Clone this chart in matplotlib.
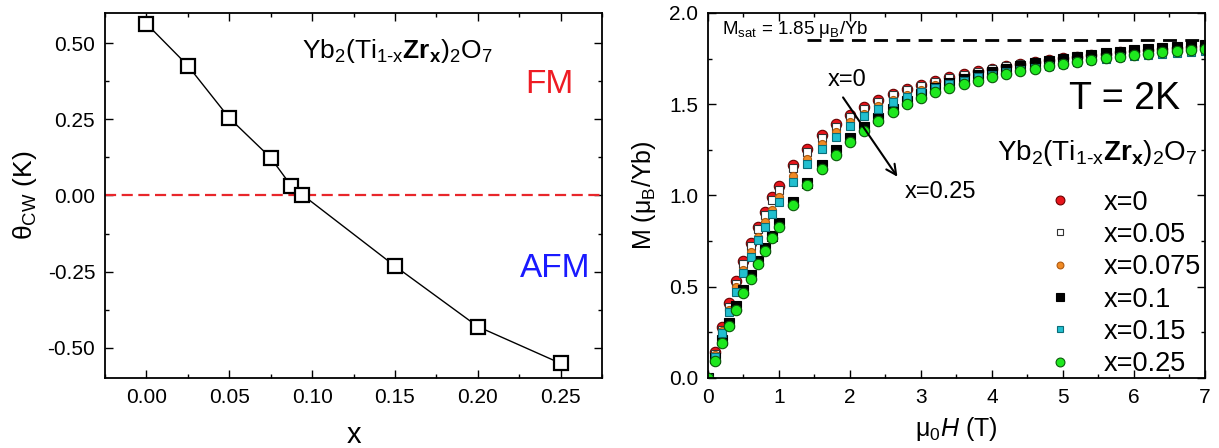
"""
Yb2(Ti1-xZrx)2O7: Curie-Weiss temperature vs x, and M(H) at T = 2 K.
"""

import matplotlib
matplotlib.use("Agg")
import matplotlib.pyplot as plt
from matplotlib.ticker import MultipleLocator

plt.rcParams["font.family"] = ["Liberation Sans", "DejaVu Sans"]
plt.rcParams["mathtext.fontset"] = "custom"
plt.rcParams["mathtext.rm"] = "Liberation Sans"
plt.rcParams["mathtext.it"] = "Liberation Sans:italic"
plt.rcParams["mathtext.bf"] = "Liberation Sans:bold"
plt.rcParams["axes.unicode_minus"] = False

# left panel: theta_CW vs x
x_conc = [0.0, 0.025, 0.05, 0.075, 0.0875, 0.094, 0.15, 0.20, 0.25]
theta_cw = [0.565, 0.427, 0.255, 0.124, 0.031, 0.003, -0.232, -0.431, -0.552]

# right panel: M(H) at 2 K
field = [0.0, 0.1, 0.2, 0.3, 0.4, 0.5, 0.6, 0.7, 0.8, 0.9, 1.0,
         1.2, 1.4, 1.6, 1.8, 2.0, 2.2, 2.4, 2.6, 2.8, 3.0,
         3.2, 3.4, 3.6, 3.8, 4.0, 4.2, 4.4, 4.6, 4.8, 5.0,
         5.2, 5.4, 5.6, 5.8, 6.0, 6.2, 6.4, 6.6, 6.8, 7.0]
m_x0 = [0.0, 0.14, 0.28, 0.41, 0.53, 0.64, 0.74, 0.83, 0.91, 0.99, 1.05,
        1.165, 1.255, 1.33, 1.39, 1.44, 1.483, 1.523, 1.556, 1.583, 1.607,
        1.627, 1.647, 1.665, 1.68, 1.695, 1.707, 1.72, 1.731, 1.742, 1.752,
        1.761, 1.769, 1.777, 1.784, 1.791, 1.797, 1.803, 1.809, 1.814, 1.819]
m_x005 = [0.0, 0.13, 0.265, 0.39, 0.515, 0.625, 0.725, 0.815, 0.895, 0.975, 1.03,
          1.15, 1.24, 1.315, 1.375, 1.43, 1.473, 1.515, 1.549, 1.577, 1.602,
          1.623, 1.644, 1.662, 1.678, 1.694, 1.707, 1.72, 1.732, 1.743, 1.754,
          1.763, 1.772, 1.78, 1.788, 1.795, 1.802, 1.808, 1.814, 1.82, 1.825]
m_x0075 = [0.0, 0.125, 0.255, 0.375, 0.50, 0.594, 0.69, 0.77, 0.852, 0.92, 0.99,
           1.105, 1.198, 1.28, 1.348, 1.40, 1.448, 1.49, 1.525, 1.553, 1.58,
           1.603, 1.624, 1.643, 1.66, 1.675, 1.689, 1.702, 1.714, 1.725, 1.735,
           1.745, 1.754, 1.762, 1.77, 1.777, 1.784, 1.79, 1.796, 1.802, 1.807]
m_x01 = [0.0, 0.11, 0.208, 0.30, 0.393, 0.48, 0.563, 0.64, 0.712, 0.78, 0.85,
         0.963, 1.07, 1.168, 1.247, 1.315, 1.375, 1.427, 1.475, 1.518, 1.555,
         1.587, 1.614, 1.638, 1.659, 1.678, 1.695, 1.71, 1.724, 1.737, 1.749,
         1.76, 1.77, 1.779, 1.788, 1.796, 1.803, 1.81, 1.816, 1.822, 1.827]
m_x015 = [0.0, 0.115, 0.245, 0.36, 0.47, 0.575, 0.663, 0.754, 0.827, 0.90, 0.963,
          1.076, 1.173, 1.257, 1.32, 1.38, 1.435, 1.474, 1.51, 1.54, 1.566,
          1.59, 1.611, 1.63, 1.647, 1.662, 1.676, 1.689, 1.701, 1.712, 1.722,
          1.732, 1.741, 1.749, 1.757, 1.764, 1.771, 1.777, 1.783, 1.788, 1.793]
m_x025 = [0.0, 0.095, 0.193, 0.286, 0.375, 0.463, 0.545, 0.623, 0.696, 0.767, 0.83,
          0.95, 1.055, 1.146, 1.224, 1.293, 1.353, 1.41, 1.455, 1.50, 1.534,
          1.566, 1.589, 1.612, 1.63, 1.648, 1.663, 1.68, 1.694, 1.707, 1.72,
          1.731, 1.742, 1.752, 1.761, 1.77, 1.778, 1.785, 1.792, 1.799, 1.805]
m_sat = 1.85

formula = r"Yb$_2$(Ti$_{\text{1-x}}$$\mathbf{Zr_x}$)$_2$O$_7$"

fig = plt.figure(figsize=(12.19, 4.48), dpi=100)

# ---- left panel
ax1 = fig.add_axes([0.0861, 0.1563, 0.4078, 0.8147])
ax1.axhline(0, color="#e8262b", linestyle=(0, (5, 2.5)), linewidth=1.6)
ax1.plot(x_conc, theta_cw, color="black", linewidth=1.0, marker="s", markersize=9.5,
         markerfacecolor="white", markeredgecolor="black", markeredgewidth=1.6)
ax1.set_xlim(-0.025, 0.275)
ax1.set_ylim(-0.6, 0.6)
ax1.xaxis.set_major_locator(MultipleLocator(0.05))
ax1.xaxis.set_minor_locator(MultipleLocator(0.025))
ax1.yaxis.set_major_locator(MultipleLocator(0.25))
ax1.yaxis.set_minor_locator(MultipleLocator(0.125))
ax1.xaxis.set_major_formatter(plt.FormatStrFormatter("%.2f"))
ax1.yaxis.set_major_formatter(plt.FormatStrFormatter("%.2f"))
ax1.set_xlabel("x", fontsize=21, labelpad=10)
ax1.set_ylabel(r"$\mathrm{\theta}_{\mathrm{CW}}$ (K)", fontsize=19, labelpad=6)
ax1.text(0.588, 0.895, formula, transform=ax1.transAxes, ha="center", va="center", fontsize=19)
ax1.text(0.895, 0.805, "FM", transform=ax1.transAxes, ha="center", va="center",
         fontsize=24, color="#ee1c24")
ax1.text(0.905, 0.30, "AFM", transform=ax1.transAxes, ha="center", va="center",
         fontsize=24, color="#1a1aff")

# ---- right panel
ax2 = fig.add_axes([0.5808, 0.1563, 0.4077, 0.8147])
ax2.plot([1.39, 7.0], [m_sat, m_sat], color="black", linestyle=(0, (5, 3)), linewidth=2.0)
series = [
    (m_x0, "x=0", "o", 7.5, "#e8141b", "#6b0000"),
    (m_x005, "x=0.05", "s", 5.5, "white", "#333333"),
    (m_x0075, "x=0.075", "o", 5.8, "#f08a24", "#b05a10"),
    (m_x01, "x=0.1", "s", 6.5, "black", "black"),
    (m_x015, "x=0.15", "s", 5.5, "#22bfcf", "#0b6d78"),
    (m_x025, "x=0.25", "o", 7.5, "#1ee81e", "#0a5a0a"),
]
for vals, lab, mk, ms, fc, ec in series:
    ax2.plot(field, vals, linestyle="none", marker=mk, markersize=ms,
             markerfacecolor=fc, markeredgecolor=ec, markeredgewidth=0.8, label=lab)
ax2.set_xlim(0, 7)
ax2.set_ylim(0, 2.0)
ax2.xaxis.set_major_locator(MultipleLocator(1))
ax2.xaxis.set_minor_locator(MultipleLocator(0.5))
ax2.yaxis.set_major_locator(MultipleLocator(0.5))
ax2.yaxis.set_minor_locator(MultipleLocator(0.25))
ax2.yaxis.set_major_formatter(plt.FormatStrFormatter("%.1f"))
ax2.set_xlabel(r"$\mathrm{\mu}_0\mathit{H}$ (T)", fontsize=18, labelpad=6)
ax2.set_ylabel(r"M ($\mathrm{\mu}_{\mathrm{B}}$/Yb)", fontsize=18, labelpad=8)
ax2.text(0.2, 1.91, r"M$_{\mathrm{sat}}$ = 1.85 $\mathrm{\mu}_{\mathrm{B}}$/Yb", fontsize=13.5,
         ha="left", va="center")
ax2.annotate("", xy=(2.69, 1.09), xytext=(1.88, 1.55),
             arrowprops=dict(arrowstyle="->", color="black", lw=1.5, mutation_scale=18))
ax2.text(1.96, 1.635, "x=0", fontsize=17, ha="center", va="center")
ax2.text(3.27, 1.02, "x=0.25", fontsize=17, ha="center", va="center")
ax2.text(0.95, 0.765, "T = 2K", transform=ax2.transAxes, fontsize=27, ha="right", va="center")
ax2.text(0.985, 0.617, formula, transform=ax2.transAxes, fontsize=20, ha="right", va="center")
ax2.legend(loc="lower right", bbox_to_anchor=(1.04, -0.065), frameon=False, fontsize=19.5,
           handletextpad=0.9, labelspacing=0.235, markerscale=0.85, handlelength=1.4)

for ax in (ax1, ax2):
    ax.tick_params(which="both", direction="in", top=True, right=True, width=1.0)
    ax.tick_params(which="major", length=6, labelsize=15, pad=7)
    ax.tick_params(which="minor", length=3)
    for sp in ax.spines.values():
        sp.set_linewidth(1.3)

fig.savefig("out.png", dpi=100)
